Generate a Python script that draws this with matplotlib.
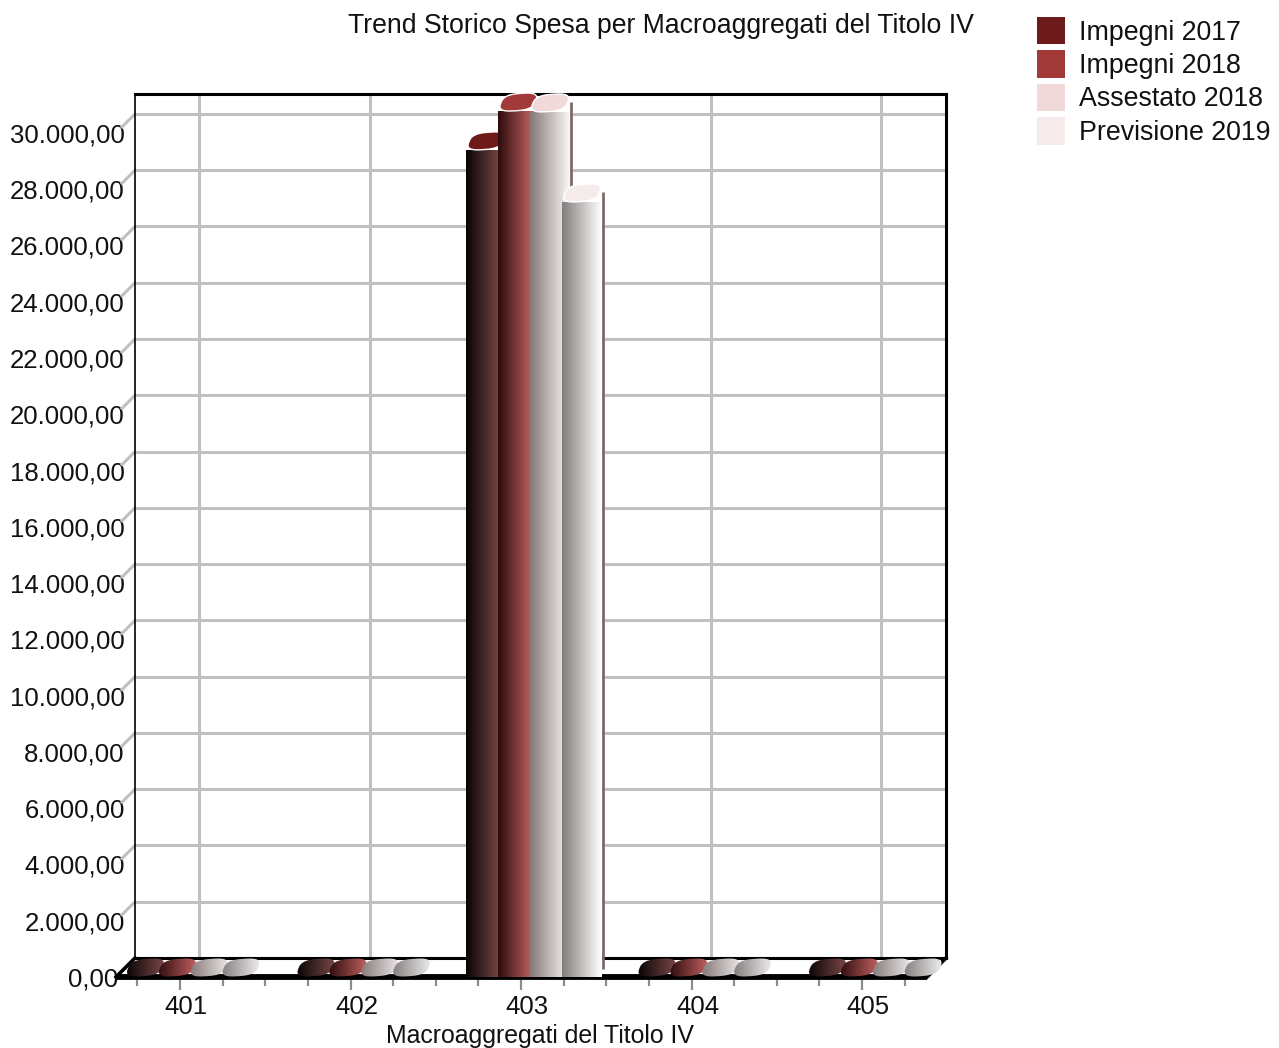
import numpy as np
import matplotlib
matplotlib.use("Agg")
import matplotlib.pyplot as plt
from matplotlib.colors import LinearSegmentedColormap
from matplotlib.patches import Patch, Polygon
from matplotlib.transforms import Affine2D

plt.rcParams['font.family'] = ['Liberation Sans', 'DejaVu Sans']

# Data =============================================
categories = ['401', '402', '403', '404', '405']
impegni_2017 = [0, 0, 29380, 0, 0]
impegni_2018 = [0, 0, 30760, 0, 0]
assestato_2018 = [0, 0, 30730, 0, 0]
previsione_2019 = [0, 0, 27530, 0, 0]
series_names = ['Impegni 2017', 'Impegni 2018', 'Assestato 2018', 'Previsione 2019']
y_ticks = list(range(0, 32000, 2000))
y_labels = ['0,00', '2.000,00', '4.000,00', '6.000,00', '8.000,00', '10.000,00',
            '12.000,00', '14.000,00', '16.000,00', '18.000,00', '20.000,00',
            '22.000,00', '24.000,00', '26.000,00', '28.000,00', '30.000,00']

# Style =============================================
W, H = 1279, 1048
wall_l, wall_r, wall_t, wall_b = 135, 946, 94, 958
px_per_cat = 170.5
px_per_2000 = 56.27
first_grid = 199
depth = 19  # px, oblique offset of the front plane
grid_col = '#c0c0c0'
fs = 18.5

solid = ['#6f1a1a', '#a33a3a', '#f2d9d9', '#f6ebeb']
shades = [('#080404', '#8c5252'), ('#2e0c0c', '#d86e6e'),
          ('#857878', '#fbf8f8'), ('#857d7d', '#ffffff')]
bar_w = 0.2346
bar_step = 0.187
bar_start = -0.32

ux = 1 / px_per_cat     # data per px in x
uy = 2000 / px_per_2000  # data per px in y
dx = depth * ux
dy = depth * uy

fig = plt.figure(figsize=(W / 100, H / 100), dpi=100)
ax = fig.add_axes([wall_l / W, 1 - wall_b / H, (wall_r - wall_l) / W, (wall_b - wall_t) / H])
xlim = ((wall_l - first_grid) * ux, (wall_r - first_grid) * ux)
ylim = (0, (wall_b - wall_t) * uy)

# overlay for the flat caps of the empty bars, images get clipped to their axes
floor_l, floor_r, floor_t, floor_b = 100, 960, 945, 990
ax2 = fig.add_axes([floor_l / W, 1 - floor_b / H, (floor_r - floor_l) / W, (floor_b - floor_t) / H])
ax2.axis('off')

# Wall =============================================
ax.set_xticks(range(len(categories)), categories)
ax.set_yticks(y_ticks, y_labels)
ax.grid(True, color=grid_col, lw=2.2)
ax.set_axisbelow(True)
ax.tick_params(axis='both', length=0, labelsize=fs, colors='#111111')
ax.tick_params(axis='y', pad=7.3)
ax.tick_params(axis='x', pad=27)
ax.spines['left'].set_linewidth(1.2)
ax.spines['top'].set_linewidth(2.2)
ax.spines['right'].set_linewidth(2.2)
ax.spines['bottom'].set_linewidth(2.2)

for lab, v in zip(ax.get_yticklabels(), y_ticks):
    shift = -7 if v == 0 else 0
    lab.set_transform(lab.get_transform() + Affine2D().translate(shift, -depth))
for lab in ax.get_xticklabels():
    lab.set_transform(lab.get_transform() + Affine2D().translate(-13, 0))

# grey connectors from the wall to the labels
for v in y_ticks[1:]:
    ax.plot([xlim[0], xlim[0] - 13 * ux], [v, v - 13 * uy], color=grid_col, lw=2.2,
            clip_on=False, zorder=1)

# Floor =============================================
ax.plot([xlim[0] - dx, xlim[1] - dx], [-dy, -dy], color='black', lw=4.2, clip_on=False,
        zorder=2, solid_capstyle='butt')
ax.plot([xlim[0], xlim[0] - dx], [0, -dy], color='black', lw=2.6, clip_on=False, zorder=2)
ax.plot([xlim[1], xlim[1] - dx], [0, -dy], color='black', lw=2.6, clip_on=False, zorder=2)

for i in range(len(categories)):
    for k in (-0.25, 0, 0.25, 0.5):
        if i + k - dx > xlim[1] - dx:
            continue
        length = 13 if k == 0 else 9
        ax.plot([i + k - dx] * 2, [-dy - 3 * uy, -dy - length * uy], color='#8c8c8c', lw=1.6,
                clip_on=False, zorder=2, solid_capstyle='butt')


# Bars =============================================
def cap_points(left, value):
    t = np.linspace(0, 2 * np.pi, 80)
    c = np.sign(np.cos(t)) * np.abs(np.cos(t)) ** 0.7
    s = np.sign(np.sin(t)) * np.abs(np.sin(t)) ** 0.7
    ch = 19 * uy
    cx = left + bar_w / 2
    cy = value + ch / 2
    x = cx + 0.44 * bar_w * c + 0.08 * bar_w * s
    y = cy + 0.46 * ch * s + 0.06 * ch * c
    return np.column_stack([x, y])


all_series = [impegni_2017, impegni_2018, assestato_2018, previsione_2019]
gradient = np.linspace(0, 1, 64).reshape(1, -1)
z = 3
for i in range(len(categories)):
    for j, values in enumerate(all_series):
        v = values[i]
        left = i + bar_start + j * bar_step - dx
        cmap = LinearSegmentedColormap.from_list('b%d' % j, shades[j])
        if v > 0:
            ax.plot([left + bar_w + 1 * ux] * 2, [-dy + 8 * uy, v - dy + 10 * uy], color='#7c6a6a',
                    lw=2, clip_on=False, zorder=z, solid_capstyle='butt')
            ax.imshow(gradient, extent=(left, left + bar_w, -dy, v - dy), aspect='auto', cmap=cmap,
                      interpolation='bilinear', clip_on=False, zorder=z + 0.1)
            ax.add_patch(Polygon(cap_points(left, v - dy), closed=True, facecolor=solid[j],
                                 edgecolor='white', lw=1, clip_on=False, zorder=z + 0.2))
        else:
            clip = Polygon(cap_points(left, -dy), closed=True, transform=ax2.transData)
            im = ax2.imshow(gradient, extent=(left, left + bar_w + 0.03, -dy, 0), aspect='auto',
                            cmap=cmap, interpolation='bilinear', zorder=z + 0.1)
            im.set_clip_path(clip)
        z += 1

ax.set_xlim(xlim)
ax.set_ylim(ylim)
ax2.set_xlim((floor_l - first_grid) * ux, (floor_r - first_grid) * ux)
ax2.set_ylim((wall_b - floor_b) * uy, (wall_b - floor_t) * uy)

# Text =============================================
fig.text(661 / W, 1 - 26 / H, 'Trend Storico Spesa per Macroaggregati del Titolo IV',
         ha='center', va='center', fontsize=19.2, color='#111111')
fig.text(540 / W, 1 - 1036 / H, 'Macroaggregati del Titolo IV',
         ha='center', va='center', fontsize=17.9, color='#111111')

handles = [Patch(facecolor=c, edgecolor='none') for c in solid]
fig.legend(handles, series_names, loc='upper left', bbox_to_anchor=(1037 / W, 1 - 17 / H),
           frameon=False, fontsize=19.3, borderpad=0, borderaxespad=0, handlelength=1.05,
           handleheight=1.2, labelspacing=0.17, handletextpad=0.5, labelcolor='#111111')

fig.savefig('out.png', dpi=100)
